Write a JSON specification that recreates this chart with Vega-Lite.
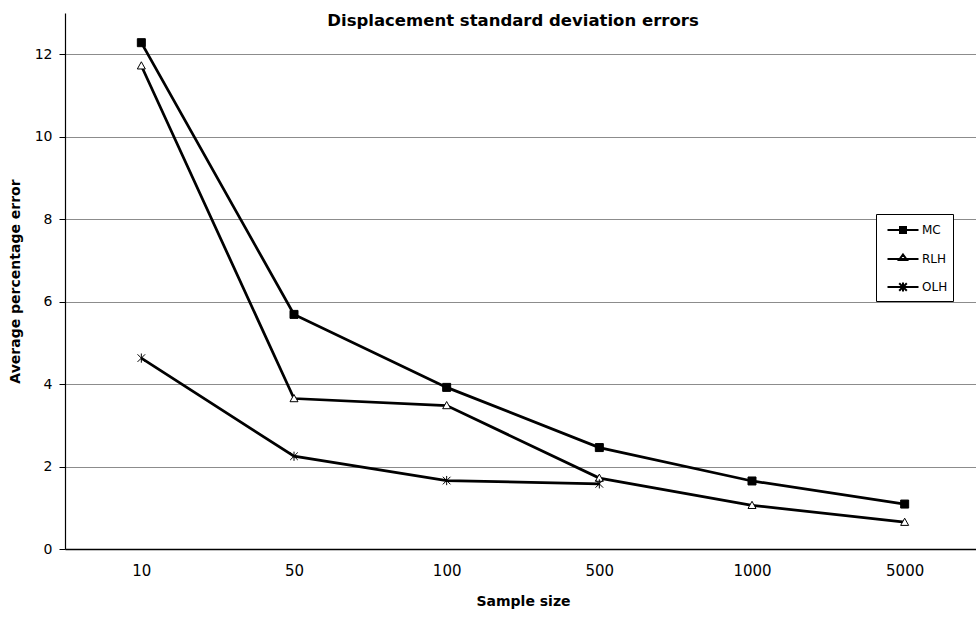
{
  "$schema": "https://vega.github.io/schema/vega-lite/v6.json",
  "width": 916,
  "height": 536,
  "autosize": {"type": "none"},
  "padding": {"left": 65, "top": 13, "right": -5, "bottom": 68},
  "background": "white",
  "config": {
    "font": "DejaVu Sans",
    "view": {"stroke": null},
    "axis": {"labelColor": "black", "titleColor": "black", "domainColor": "black", "tickColor": "black"}
  },
  "title": {
    "text": "Displacement standard deviation errors",
    "font": "DejaVu Sans",
    "fontSize": 16.5,
    "fontWeight": "bold",
    "color": "black",
    "anchor": "middle",
    "frame": "group",
    "baseline": "alphabetic",
    "offset": 0,
    "dx": -10,
    "dy": 29
  },
  "data": {
    "values": [
      {"size": "10", "series": "MC", "error": 12.28},
      {"size": "50", "series": "MC", "error": 5.69},
      {"size": "100", "series": "MC", "error": 3.92},
      {"size": "500", "series": "MC", "error": 2.46},
      {"size": "1000", "series": "MC", "error": 1.65},
      {"size": "5000", "series": "MC", "error": 1.09},
      {"size": "10", "series": "RLH", "error": 11.72},
      {"size": "50", "series": "RLH", "error": 3.65},
      {"size": "100", "series": "RLH", "error": 3.48},
      {"size": "500", "series": "RLH", "error": 1.72},
      {"size": "1000", "series": "RLH", "error": 1.06},
      {"size": "5000", "series": "RLH", "error": 0.65},
      {"size": "10", "series": "OLH", "error": 4.63},
      {"size": "50", "series": "OLH", "error": 2.25},
      {"size": "100", "series": "OLH", "error": 1.66},
      {"size": "500", "series": "OLH", "error": 1.58}
    ]
  },
  "encoding": {
    "x": {
      "field": "size",
      "type": "ordinal",
      "scale": {"type": "point", "padding": 0.5, "domain": ["10", "50", "100", "500", "1000", "5000"]},
      "axis": {
        "title": "Sample size",
        "titleFontSize": 14,
        "titleFontWeight": "bold",
        "titlePadding": 16,
        "labelAngle": 0,
        "labelFontSize": 15,
        "labelPadding": 14,
        "ticks": false,
        "tickSize": 0,
        "grid": false,
        "domainWidth": 1.5
      }
    },
    "y": {
      "field": "error",
      "type": "quantitative",
      "scale": {"domain": [0, 13], "nice": false},
      "axis": {
        "title": "Average percentage error",
        "titleFontSize": 14,
        "titleFontWeight": "bold",
        "titlePadding": 12,
        "values": [0, 2, 4, 6, 8, 10, 12],
        "labelFontSize": 14,
        "labelPadding": 7,
        "tickSize": 6,
        "grid": true,
        "gridColor": "#8c8c8c",
        "gridWidth": 1.2,
        "domainWidth": 1.2
      }
    }
  },
  "resolve": {"scale": {"shape": "independent"}, "legend": {"shape": "independent"}},
  "layer": [
    {
      "mark": {"type": "line", "color": "black", "strokeWidth": 2.75},
      "encoding": {"detail": {"field": "series"}}
    },
    {
      "mark": {"type": "point", "filled": true, "opacity": 1, "stroke": "black", "strokeWidth": 1, "size": 64},
      "encoding": {
        "shape": {
          "field": "series",
          "type": "nominal",
          "scale": {
            "domain": ["MC", "RLH", "OLH"],
            "range": [
              "M-1,-1H1V1H-1Z",
              "M0,-1L1,0.8H-1Z",
              "M0,-1.15V1.15M-0.95,-0.95L0.95,0.95M-0.95,0.95L0.95,-0.95"
            ]
          },
          "legend": null
        },
        "fill": {
          "field": "series",
          "type": "nominal",
          "scale": {"domain": ["MC", "RLH", "OLH"], "range": ["black", "white", "white"]},
          "legend": null
        }
      }
    },
    {
      "mark": {"type": "point", "filled": false, "opacity": 0, "stroke": "black", "strokeWidth": 2, "size": 400},
      "encoding": {
        "shape": {
          "field": "series",
          "type": "nominal",
          "scale": {
            "domain": ["MC", "RLH", "OLH"],
            "range": [
              "M-1.55,0H1.55M-0.4,-0.3H0.4M-0.4,-0.1H0.4M-0.4,0.1H0.4M-0.4,0.3H0.4",
              "M-1.55,0H1.55M0,-0.45L0.4,0.1L-0.4,0.1Z",
              "M-1.55,0H1.55M0,-0.45V0.45M-0.38,-0.38L0.38,0.38M-0.38,0.38L0.38,-0.38"
            ]
          },
          "legend": {
            "title": null,
            "orient": "none",
            "legendX": 811,
            "legendY": 201,
            "direction": "vertical",
            "strokeColor": "black",
            "fillColor": "white",
            "padding": 5,
            "symbolSize": 400,
            "symbolOffset": 11,
            "symbolOpacity": 1,
            "symbolFillColor": "transparent",
            "symbolStrokeColor": "black",
            "symbolStrokeWidth": 2,
            "rowPadding": 11,
            "labelFont": "DejaVu Sans",
            "labelFontSize": 12,
            "labelColor": "black",
            "labelOffset": 8
          }
        }
      }
    }
  ]
}
